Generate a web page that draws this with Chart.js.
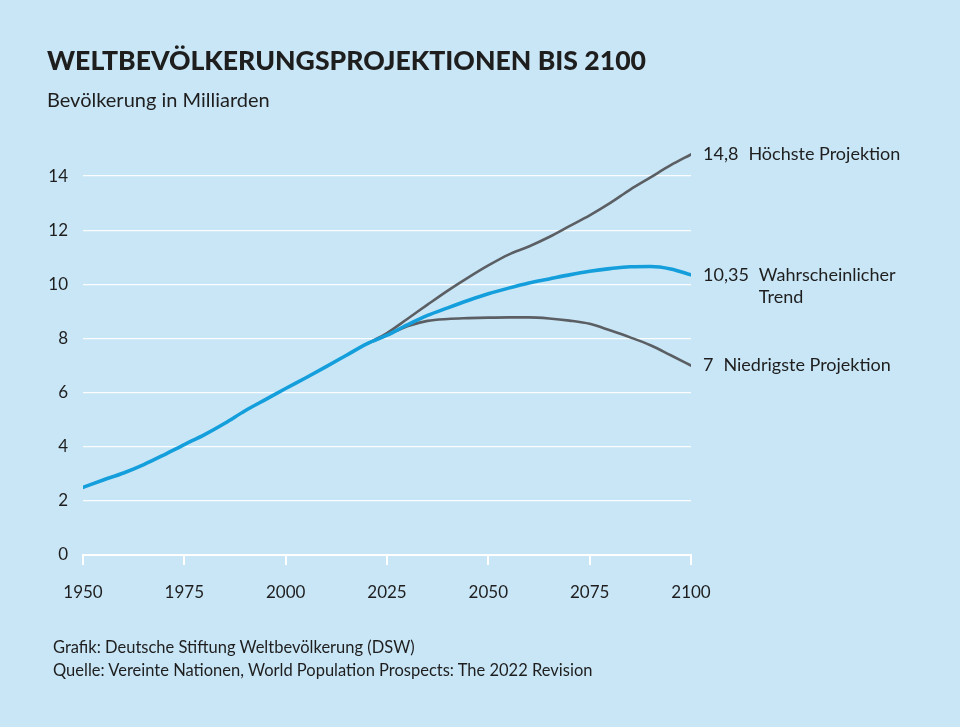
<!DOCTYPE html>
<html lang="de">
<head>
<meta charset="utf-8">
<script src="https://cdn.jsdelivr.net/npm/chart.js@4"></script>
<style>
  html, body { margin: 0; padding: 0; }
  body { width: 960px; height: 727px; background: #c9e6f6; position: relative; overflow: hidden; font-family: Lato, "Noto Sans", sans-serif; color: #1e1e1e; }
  #wrap { position: absolute; left: 0; top: 0; width: 960px; height: 727px; }
  .txt { position: absolute; line-height: 1; white-space: nowrap; }
  #title { left: 47px; top: 47px; font-size: 26.6px; font-weight: 900; }
  #sub { left: 47px; top: 89px; font-size: 20px; }
  .foot { left: 53px; font-size: 16.5px; }
</style>
</head>
<body>
<div id="wrap"><canvas id="chart"></canvas></div>
<div class="txt" id="title">WELTBEVÖLKERUNGSPROJEKTIONEN BIS 2100</div>
<div class="txt" id="sub">Bevölkerung in Milliarden</div>
<div class="txt foot" style="top:639px">Grafik: Deutsche Stiftung Weltbevölkerung (DSW)</div>
<div class="txt foot" style="top:662px">Quelle: Vereinte Nationen, World Population Prospects: The 2022 Revision</div>
<script>
// Werte in Milliarden
const years = [1950, 1955, 1960, 1965, 1970, 1975, 1980, 1985, 1990, 1995, 2000, 2005, 2010, 2015, 2020,
               2025, 2030, 2035, 2040, 2045, 2050, 2055, 2060, 2065, 2070, 2075, 2080, 2085, 2090, 2095, 2100];
const trend = [2.5, 2.77, 3.03, 3.34, 3.7, 4.08, 4.45, 4.87, 5.33, 5.74, 6.15, 6.55, 6.96, 7.38, 7.8,
               8.12, 8.5, 8.85, 9.13, 9.4, 9.65, 9.86, 10.05, 10.2, 10.35, 10.48, 10.58, 10.65, 10.66, 10.57, 10.35];

const projYears = [2020, 2025, 2030, 2035, 2040, 2045, 2050, 2055, 2060, 2065, 2070, 2075, 2080, 2085, 2090, 2095, 2100];
const highest = [7.8, 8.2, 8.72, 9.25, 9.77, 10.25, 10.7, 11.1, 11.4, 11.75, 12.15, 12.55, 13.0, 13.5, 13.95, 14.4, 14.8];
const lowest = [7.8, 8.12, 8.45, 8.65, 8.72, 8.75, 8.77, 8.78, 8.78, 8.74, 8.66, 8.54, 8.3, 8.04, 7.75, 7.38, 7.0];

const seriesNames = ['Höchste Projektion', ['Wahrscheinlicher', 'Trend'], 'Niedrigste Projektion'];
const yTicks = [0, 2, 4, 6, 8, 10, 12, 14];
const xTicks = [1950, 1975, 2000, 2025, 2050, 2075, 2100];

const toPoints = (xs, ys) => xs.map((x, i) => ({ x: x, y: ys[i] }));

const FONT = 'Lato, "Noto Sans", sans-serif';
const INK = '#1e1e1e';
const GREY = '#5b5f64';
const BLUE = '#149fdc';

// Beschriftung am Linienende
const endLabels = {
    id: 'endLabels',
    afterDatasetsDraw(chart) {
        const ctx = chart.ctx;
        ctx.save();
        ctx.font = '18px ' + FONT;
        ctx.fillStyle = INK;
        ctx.textBaseline = 'middle';
        ctx.textAlign = 'left';
        chart.data.datasets.forEach((ds, i) => {
            const meta = chart.getDatasetMeta(i);
            const last = meta.data[meta.data.length - 1];
            const value = ds.data[ds.data.length - 1].y.toLocaleString('de-DE');
            const x = last.x + 12;
            const y = last.y;
            ctx.fillText(value, x, y);
            const nx = x + ctx.measureText(value).width + 10;
            const name = ds.endName;
            const lines = Array.isArray(name) ? name : [name];
            lines.forEach((l, j) => ctx.fillText(l, nx, y + j * 22));
        });
        ctx.restore();
    }
};

new Chart(document.getElementById('chart'), {
    type: 'line',
    data: {
        datasets: [
            {
                label: 'Höchste Projektion',
                endName: seriesNames[0],
                data: toPoints(projYears, highest),
                borderColor: GREY,
                borderWidth: 2.6,
                order: 2
            },
            {
                label: 'Wahrscheinlicher Trend',
                endName: seriesNames[1],
                data: toPoints(years, trend),
                borderColor: BLUE,
                borderWidth: 3.6,
                order: 1
            },
            {
                label: 'Niedrigste Projektion',
                endName: seriesNames[2],
                data: toPoints(projYears, lowest),
                borderColor: GREY,
                borderWidth: 2.6,
                order: 3
            }
        ]
    },
    options: {
        responsive: true,
        maintainAspectRatio: false,
        animation: false,
        elements: {
            point: { radius: 0 },
            line: { cubicInterpolationMode: 'monotone', borderCapStyle: 'round', fill: false }
        },
        layout: { padding: { top: 149, right: 269, bottom: 0, left: 0 } },
        plugins: {
            legend: { display: false },
            tooltip: { enabled: false }
        },
        scales: {
            x: {
                type: 'linear',
                min: 1950,
                max: 2100,
                afterBuildTicks: (scale) => { scale.ticks = xTicks.map(v => ({ value: v })); },
                afterFit: (scale) => { scale.height = 172; },
                ticks: {
                    callback: (v) => String(v),
                    color: INK,
                    font: { family: FONT, size: 17 },
                    padding: 17,
                    maxRotation: 0
                },
                grid: {
                    drawOnChartArea: false,
                    drawTicks: true,
                    tickLength: 10,
                    color: '#ffffff',
                    lineWidth: 2
                },
                border: { display: true, color: '#ffffff', width: 2 }
            },
            y: {
                min: 0,
                max: 15,
                afterBuildTicks: (scale) => { scale.ticks = yTicks.map(v => ({ value: v })); },
                afterFit: (scale) => { scale.width = 83; },
                ticks: {
                    color: INK,
                    font: { family: FONT, size: 17 },
                    padding: 15
                },
                grid: {
                    drawTicks: false,
                    color: (c) => c.tick && c.tick.value === 0 ? 'rgba(0,0,0,0)' : 'rgba(255,255,255,0.9)',
                    lineWidth: 1.2
                },
                border: { display: false }
            }
        }
    },
    plugins: [endLabels]
});
</script>
</body>
</html>
